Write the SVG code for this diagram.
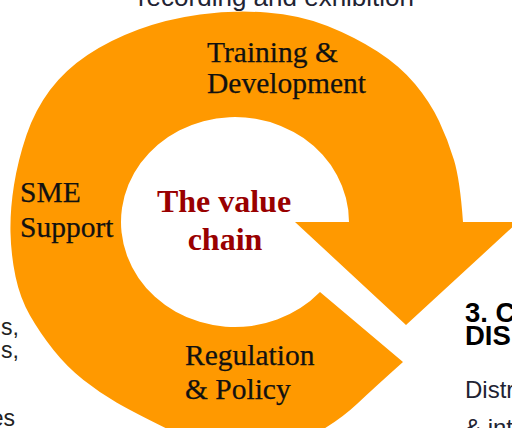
<svg xmlns="http://www.w3.org/2000/svg" width="512" height="428" viewBox="0 0 512 428">
<style>
.lbl{font-family:"Liberation Serif","Times New Roman",serif;font-size:29.5px;fill:#111;stroke:#111;stroke-width:0.25px}
.core{font-family:"Liberation Serif","Times New Roman",serif;font-size:32px;font-weight:bold;fill:#990000}
.side{font-family:"Liberation Sans",Arial,sans-serif;font-size:23px;fill:#222}
.cap{font-family:"Liberation Sans",Arial,sans-serif;font-size:26px;fill:#1f2433}
.head{font-family:"Liberation Sans",Arial,sans-serif;font-size:27.5px;font-weight:bold;fill:#000}
</style>
<rect width="512" height="428" fill="#fff"/>
<g id="cycle-arrow">
<path fill="#FF9900" d="M 463,222 L 518,222 L 406,325 L 295,222 L 349,222 A 114 105 0 1 0 320,292 L 403,362 Q 375,387 357.5,403.5 Q 340,420 317.5,432.5 Q 295,445 247.5,445 Q 200,445 166.5,428.5 Q 133,412 116.5,402.5 Q 100,393 83.5,380 Q 67,367 53.5,350 Q 40,333 30,315.5 Q 20,298 15.5,276.5 Q 11,255 10.5,232.5 Q 10,210 14,185 Q 18,160 26.5,135 Q 35,110 50,90 Q 65,70 87.5,55 Q 110,40 138.5,29.5 Q 167,19 200,14.5 Q 233,10 266.5,12.5 Q 300,15 327.5,26 Q 355,37 377.5,51.5 Q 400,66 415,84 Q 430,102 439,121 Q 448,140 454,160 Q 460,180 463,222 Z"/>
</g>
<g id="top-caption"><text class="cap" x="276" y="6" text-anchor="middle">recording and exhibition</text></g>
<g id="training"><text class="lbl" x="207" y="62">Training &amp;</text><text class="lbl" x="207" y="93">Development</text></g>
<g id="sme"><text class="lbl" x="20" y="202">SME</text><text class="lbl" x="20" y="237">Support</text></g>
<g id="regulation"><text class="lbl" x="185" y="365">Regulation</text><text class="lbl" x="185" y="399">&amp; Policy</text></g>
<g id="center"><text class="core" x="224" y="212" text-anchor="middle">The value</text><text class="core" x="225" y="250" text-anchor="middle">chain</text></g>
<g id="left-column"><text class="side" x="19" y="335" text-anchor="end">s,</text><text class="side" x="19" y="358" text-anchor="end">s,</text><text class="side" x="15" y="426" text-anchor="end">es</text></g>
<g id="distribution"><text class="head" x="465" y="322">3. C</text><text class="head" x="465" y="345">DIS</text><text class="cap" x="465" y="398" style="font-size:24px">Distr</text><text class="cap" x="465" y="436" style="font-size:24px">&amp; int</text></g>
</svg>
